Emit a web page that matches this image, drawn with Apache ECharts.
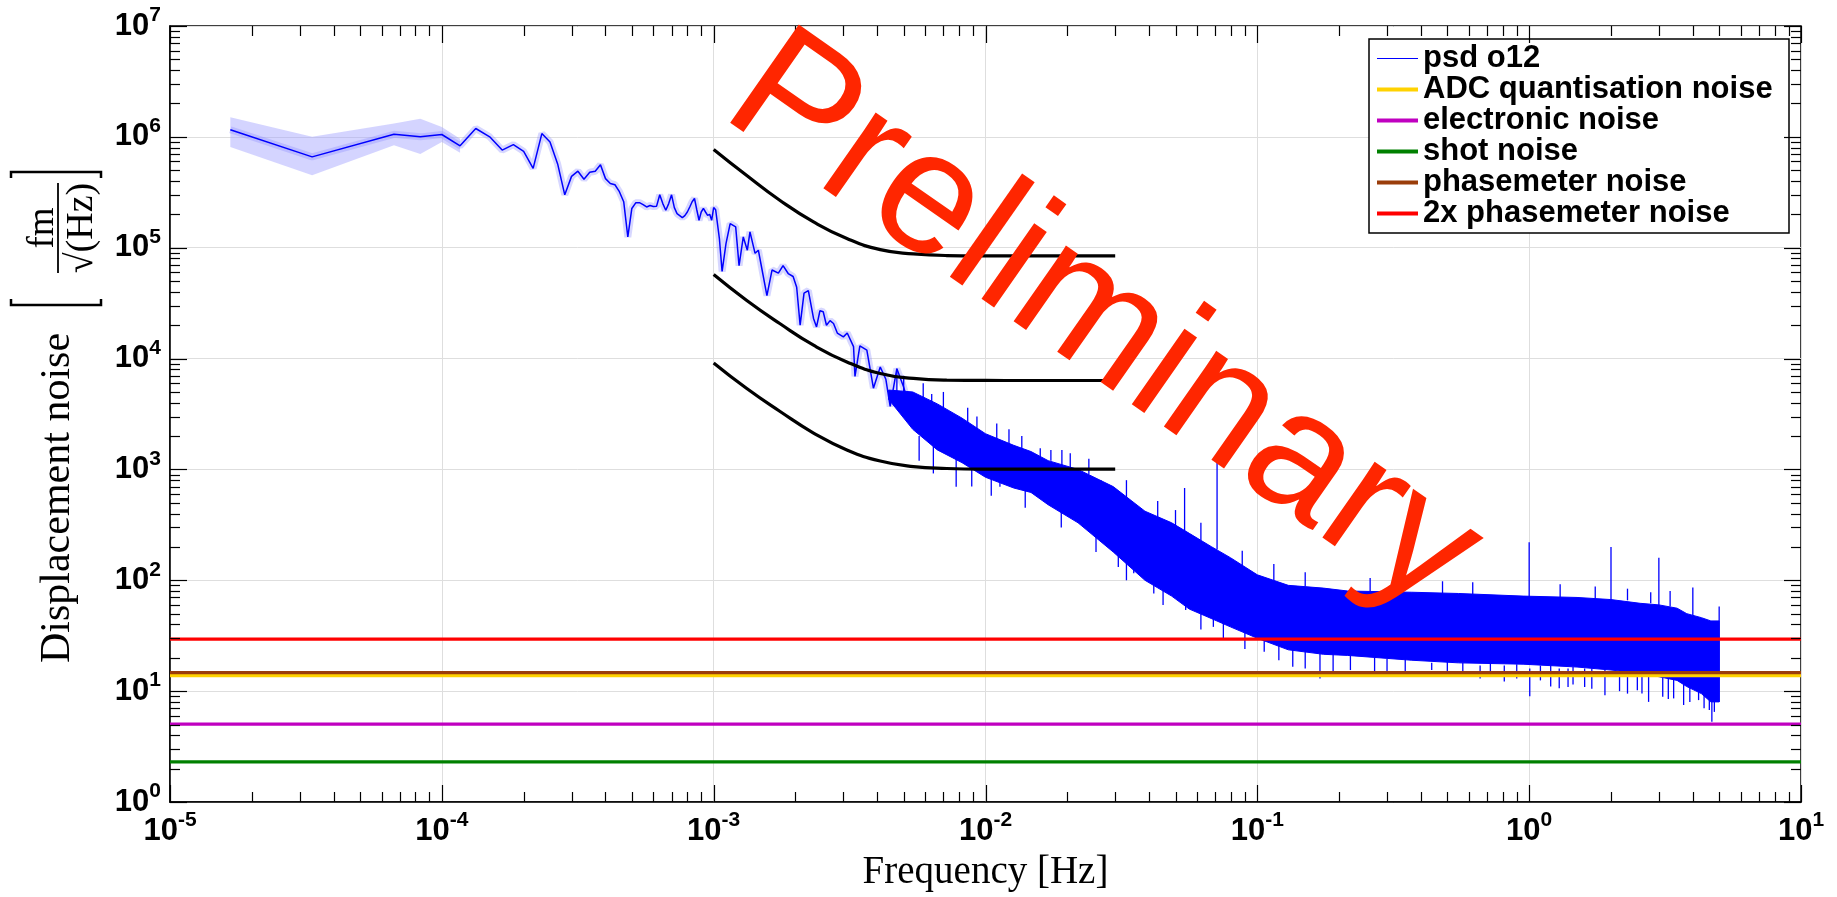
<!DOCTYPE html>
<html><head><meta charset="utf-8">
<script src="https://cdn.jsdelivr.net/npm/echarts@6.0.0/dist/echarts.min.js"></script>
<style>html,body{margin:0;padding:0;background:#fff;}#chart{width:1837px;height:897px;}</style>
</head><body><div id="chart"></div>
<script>
// ---------------- data ----------------
const xExpLabels = ['-5','-4','-3','-2','-1','0','1'];
const yExpLabels = ['0','1','2','3','4','5','6','7'];
const xRange = [1e-5, 10];
const yRange = [1, 1e7];

// psd o12 (readable single trace, low frequencies)
const psdF = [
 1.667e-5, 3.333e-5, 6.667e-5, 8.333e-5, 1.000e-4, 1.167e-4, 1.333e-4, 1.500e-4, 1.667e-4, 1.833e-4,
 2.000e-4, 2.167e-4, 2.333e-4, 2.500e-4, 2.667e-4, 2.833e-4, 3.000e-4, 3.167e-4, 3.333e-4, 3.500e-4,
 3.667e-4, 3.833e-4, 4.000e-4, 4.167e-4, 4.333e-4, 4.500e-4, 4.667e-4, 4.833e-4, 5.000e-4, 5.167e-4,
 5.333e-4, 5.500e-4, 5.667e-4, 5.833e-4, 6.000e-4, 6.167e-4, 6.333e-4, 6.500e-4, 6.667e-4, 6.833e-4,
 7.000e-4, 7.167e-4, 7.333e-4, 7.500e-4, 7.667e-4, 7.833e-4, 8.000e-4, 8.167e-4, 8.333e-4, 8.500e-4,
 8.667e-4, 8.833e-4, 9.000e-4, 9.167e-4, 9.333e-4, 9.500e-4, 9.667e-4, 9.833e-4, 1.000e-3, 1.017e-3,
 1.050e-3, 1.074e-3, 1.110e-3, 1.150e-3, 1.166e-3, 1.205e-3, 1.240e-3, 1.285e-3, 1.330e-3, 1.360e-3,
 1.420e-3, 1.460e-3, 1.500e-3, 1.570e-3, 1.640e-3, 1.730e-3, 1.800e-3, 1.880e-3, 1.960e-3, 2.020e-3,
 2.080e-3, 2.150e-3, 2.230e-3, 2.330e-3, 2.390e-3, 2.460e-3, 2.530e-3, 2.600e-3, 2.680e-3, 2.760e-3,
 2.850e-3, 3.000e-3, 3.100e-3, 3.270e-3, 3.310e-3, 3.450e-3, 3.660e-3, 3.870e-3, 4.100e-3, 4.300e-3,
 4.460e-3, 4.720e-3, 4.990e-3, 5.200e-3, 5.430e-3, 5.800e-3, 6.080e-3
];
const psdV = [
 1.16e6, 6.6e5, 1.055e6, 1.0e6, 1.05e6, 8.3e5, 1.19e6, 1.0e6, 7.6e5, 8.5e5,
 7.4e5, 5.2e5, 1.07e6, 9.0e5, 5.7e5, 3.0e5, 4.4e5, 4.9e5, 4.15e5, 4.8e5,
 4.9e5, 5.6e5, 4.2e5, 3.8e5, 3.7e5, 3.2e5, 2.6e5, 1.25e5, 2.26e5, 2.54e5,
 2.55e5, 2.45e5, 2.33e5, 2.4e5, 2.35e5, 2.37e5, 3.0e5, 2.5e5, 2.18e5, 2.5e5,
 3.0e5, 2.3e5, 2.03e5, 1.95e5, 1.87e5, 1.95e5, 2.1e5, 2.33e5, 2.6e5, 2.78e5,
 2.2e5, 1.77e5, 2.1e5, 2.26e5, 2.1e5, 1.96e5, 2.0e5, 1.77e5, 2.3e5, 2.2e5,
 1.2e5, 6.1e4, 1.09e5, 1.65e5, 1.71e5, 1.54e5, 6.9e4, 1.25e5, 9.5e4, 1.39e5,
 8.9e4, 9.5e4, 6.7e4, 3.7e4, 6.3e4, 5.9e4, 6.9e4, 5.85e4, 5.5e4, 4.4e4,
 2.0e4, 3.9e4, 4.1e4, 2.3e4, 1.93e4, 2.7e4, 2.64e4, 2.0e4, 2.2e4, 2.07e4,
 1.7e4, 1.57e4, 1.7e4, 1.28e4, 6.9e3, 1.3e4, 1.19e4, 5.4e3, 8.4e3, 6.5e3,
 3.7e3, 8.1e3, 5.6e3, 4.0e3, 2.8e3, 3.9e3, 3.2e3
];

// confidence region of psd o12 at the lowest frequencies
const ciF  = [1.667e-5, 3.333e-5, 6.667e-5, 8.333e-5, 1.0e-4, 1.167e-4];
const ciHi = [1.5e6, 1.0e6, 1.32e6, 1.46e6, 1.23e6, 9.6e5];
const ciLo = [8.1e5, 4.5e5, 8.4e5, 7.0e5, 9.0e5, 7.2e5];

// psd o12 dense region: envelope (upper / lower)
const bandF  = [4.4e-3, 5.4e-3, 6.65e-3, 8.2e-3, 1.0e-2, 1.27e-2, 1.47e-2, 1.7e-2, 2.19e-2, 2.95e-2,
                3.86e-2, 4.84e-2, 5.62e-2, 6.8e-2, 7.96e-2, 0.1, 0.13, 0.175, 0.215, 0.37,
                0.55, 0.95, 1.5, 2.0, 2.56, 3.0, 3.5, 3.8, 4.3, 4.66, 5.0];
const bandHi = [5.2e3, 5.0e3, 3.9e3, 2.9e3, 2.1e3, 1.65e3, 1.45e3, 1.2e3, 1.0e3, 700,
                420, 330, 265, 200, 160, 112, 90, 85, 80, 78,
                76, 72, 70, 67, 62, 60, 56, 50, 46, 43, 43];
const bandLo = [4.3e3, 2.3e3, 1.5e3, 1.15e3, 850, 680, 620, 480, 330, 180,
                100, 72, 55, 45, 38, 30, 23.6, 21.5, 21, 19,
                18, 17.5, 16.5, 15.5, 14.5, 13.5, 12.5, 11, 9.5, 8.0, 8.0];

// isolated spikes of psd o12 (frequency, low end, high end)
const spikeF  = [4.72e-3, 6.34e-3, 6.43e-3, 7.8e-3, 1.13e-2, 1.59e-2, 1.74e-2, 1.91e-2, 2.66e-2, 5.4e-2, 7.11e-2,
                 1.0, 2.0, 3.0, 4.0, 5.0,
                 3.08e-2, 3.51e-2, 4.16e-2, 5.45e-2, 6.89e-2, 0.106, 0.135, 0.17, 0.22, 0.438, 0.66, 0.81,
                 1.005, 1.29, 1.39, 1.6, 1.9, 2.5, 2.75, 3.1, 3.4, 4.2, 4.6, 4.7, 4.93];
const spikeLo = [5.0e3, 4.0e3, 920, 697, 697, 1.2e3, 1.2e3, 1.0e3, 600, 250, 190,
                 70, 65, 58, 48, 8.0,
                 132, 116, 76, 54, 38, 22.7, 16.6, 13.0, 15.5, 15.5, 13, 12.2,
                 9.0, 10.6, 10.9, 10.9, 9.2, 10.2, 8.0, 8.9, 8.6, 8.3, 6.75, 5.3, 8.3];
const spikeHi = [8.1e3, 4.8e3, 2000, 1500, 900, 1550, 1500, 1500, 800, 680, 1150,
                 220, 200, 160, 86, 58,
                 200, 150, 100, 70, 45, 30, 26, 22, 21, 18, 17, 17,
                 16, 16, 16, 16, 15.5, 15, 14, 14, 14, 11, 10, 10, 9];

// short hairs along the edges of the dense region (frequency, low end, high end)
const hairF  = [5.0e-3, 5.9e-3, 7.0e-3, 8.6e-3, 9.3e-3, 1.1e-2, 1.22e-2, 1.36e-2, 2.05e-2, 2.4e-2,
                3.3e-2, 4.3e-2, 5.0e-2, 6.2e-2, 8.8e-2, 0.115, 0.15, 0.26, 0.33, 0.48,
                0.62, 1.3, 1.75, 2.3, 2.8, 3.3,
                5.7e-3, 8.9e-3, 1.05e-2, 1.4e-2, 1.9e-2, 2.55e-2, 3.3e-2, 4.5e-2, 6.2e-2, 7.5e-2,
                9.0e-2, 0.12, 0.15, 0.19, 0.27, 0.3, 0.35, 0.5, 0.57, 0.72,
                0.9, 1.1, 1.2, 1.45, 1.7, 2.15, 2.3, 2.6, 3.25, 3.7, 3.9, 4.4, 4.8];
const hairLo = [4.5e3, 4.0e3, 3.2e3, 2.4e3, 2.1e3, 1.8e3, 1.6e3, 1.5e3, 1.0e3, 900,
                560, 360, 310, 230, 130, 100, 88, 80, 78, 76,
                75, 70, 68, 66, 62, 58,
                1.2e3, 700, 580, 450, 300, 180, 100, 60, 36, 30,
                24, 19, 16, 14.5, 14.5, 13.5, 14, 13.5, 14, 13.5,
                13, 12.5, 11, 11.5, 10.5, 10, 9.5, 9.5, 8.5, 7.5, 8, 7, 6.5];
const hairHi = [7.0e3, 6.0e3, 5.0e3, 3.6e3, 3.0e3, 2.6e3, 2.3e3, 2.0e3, 1.4e3, 1.25e3,
                800, 520, 430, 330, 185, 140, 118, 105, 100, 98,
                96, 92, 88, 84, 78, 80,
                2.0e3, 1.1e3, 900, 700, 450, 280, 150, 85, 50, 42,
                34, 27, 23, 22, 20, 19.5, 19.5, 18.5, 18, 17.8,
                17.5, 17, 17, 16.5, 16, 15.5, 15, 14.5, 13.5, 12, 11.5, 10, 9];

// model curves (black)
const modelF = [1.0e-3, 1.32e-3, 1.75e-3, 2.33e-3, 3.09e-3, 4.1e-3, 5.43e-3, 7.2e-3, 1.0e-2, 1.4e-2, 2.0e-2, 3.0e-2];
const modelTop = [7.7e5, 4.5e5, 2.68e5, 1.71e5, 1.21e5, 9.6e4, 8.8e4, 8.5e4, 8.45e4, 8.44e4, 8.44e4, 8.44e4];
const modelMid = [5.73e4, 3.36e4, 2.07e4, 1.32e4, 9.33e3, 7.34e3, 6.62e3, 6.38e3, 6.35e3, 6.34e3, 6.34e3, 6.34e3];
const modelBot = [9.14e3, 5.4e3, 3.35e3, 2.13e3, 1.50e3, 1.19e3, 1.06e3, 1.02e3, 1.007e3, 1.006e3, 1.006e3, 1.006e3];

// flat noise levels
const noiseNames  = ['ADC quantisation noise', 'electronic noise', 'shot noise', 'phasemeter noise', '2x phasemeter noise'];
const noiseLevels = [13.8, 5.05, 2.3, 14.7, 29.4];

// ---------------- styles ----------------
const noiseColors = ['#ffd200', '#c000c0', '#008000', '#9a3d0a', '#ff0000'];
const SANS = '"Liberation Sans", Arial, Helvetica, sans-serif';
const SERIF = '"Liberation Serif", "Times New Roman", serif';

const xMajorTicks = [1e-5, 1e-4, 1e-3, 1e-2, 1e-1, 1, 10];
const yMajorTicks = [1, 10, 100, 1e3, 1e4, 1e5, 1e6, 1e7];
const minorMult = [2, 3, 4, 5, 6, 7, 8, 9];
function minors(majors) {
  const out = [];
  for (let i = 0; i < majors.length - 1; i++) minorMult.forEach(m => out.push(majors[i] * m));
  return out;
}
const xMinorTicks = minors(xMajorTicks);
const yMinorTicks = minors(yMajorTicks);

const pair = (fs, vs) => fs.map((f, i) => [f, vs[i]]);
const triple = (fs, lo, hi) => fs.map((f, i) => [f, lo[i], hi[i]]);

const richLabel = {
  b: {fontFamily: SANS, fontWeight: 'bold', fontSize: 31, lineHeight: 42, color: '#000'},
  s: {fontFamily: SANS, fontWeight: 'bold', fontSize: 21, lineHeight: 21, verticalAlign: 'top', color: '#000'}
};

const chart = echarts.init(document.getElementById('chart'), null, {renderer: 'canvas', width: 1837, height: 897});

const series = [];

// confidence band
series.push({
  type: 'custom', name: 'psd ci', coordinateSystem: 'cartesian2d', silent: true, z: 2, clip: true,
  data: [[ciF[0], ciHi[0]]],
  renderItem: (params, api) => {
    const pts = [];
    for (let i = 0; i < ciF.length; i++) pts.push(api.coord([ciF[i], ciHi[i]]));
    for (let i = ciF.length - 1; i >= 0; i--) pts.push(api.coord([ciF[i], ciLo[i]]));
    return {type: 'polygon', shape: {points: pts}, style: {fill: 'rgba(160,160,255,0.45)'}};
  }
});
// halo around trace
series.push({
  type: 'line', name: 'psd halo', data: pair(psdF, psdV), symbol: 'none', silent: true, z: 3,
  lineStyle: {color: 'rgba(140,140,255,0.35)', width: 7}, clip: true
});
// dense band
series.push({
  type: 'custom', name: 'psd band', coordinateSystem: 'cartesian2d', silent: true, z: 4, clip: true,
  data: [[bandF[0], bandHi[0]]],
  renderItem: (params, api) => {
    const pts = [];
    for (let i = 0; i < bandF.length; i++) pts.push(api.coord([bandF[i], bandHi[i]]));
    for (let i = bandF.length - 1; i >= 0; i--) pts.push(api.coord([bandF[i], bandLo[i]]));
    return {type: 'polygon', shape: {points: pts}, style: {fill: '#0000ff', stroke: '#0000ff', lineWidth: 1}};
  }
});
// spikes and hairs
const vline = (params, api) => {
  const a = api.coord([api.value(0), api.value(1)]);
  const b = api.coord([api.value(0), api.value(2)]);
  return {type: 'line', shape: {x1: a[0], y1: a[1], x2: b[0], y2: b[1]}, style: {stroke: '#0000ff', lineWidth: 1.3}};
};
series.push({
  type: 'custom', name: 'psd spikes', coordinateSystem: 'cartesian2d', silent: true, z: 4, clip: true,
  data: triple(spikeF, spikeLo, spikeHi), encode: {x: 0, y: [1, 2]}, renderItem: vline
});
series.push({
  type: 'custom', name: 'psd hairs', coordinateSystem: 'cartesian2d', silent: true, z: 4, clip: true,
  data: triple(hairF, hairLo, hairHi), encode: {x: 0, y: [1, 2]}, renderItem: vline
});
// main trace
series.push({
  type: 'line', name: 'psd o12', data: pair(psdF, psdV), symbol: 'none', showSymbol: false, z: 5, clip: true,
  color: '#0000ff', lineStyle: {color: '#0000ff', width: 1.5}
});
// model curves
[modelTop, modelMid, modelBot].forEach((m, k) => {
  series.push({
    type: 'line', name: 'model ' + k, data: pair(modelF, m), symbol: 'none', z: 6, smooth: 0.5,
    color: '#000', lineStyle: {color: '#000', width: 3.2}
  });
});
// flat noise lines
noiseNames.forEach((n, i) => {
  series.push({
    type: 'line', name: n, data: [[xRange[0], noiseLevels[i]], [xRange[1], noiseLevels[i]]],
    symbol: 'none', showSymbol: false, z: 7, color: noiseColors[i], lineStyle: {color: noiseColors[i], width: 3.2}
  });
});
// ticks on all four sides (inward)
series.push({
  type: 'custom', name: 'ticks', coordinateSystem: 'cartesian2d', silent: true, z: 9, clip: false,
  data: [[1, 1]],
  renderItem: (params, api) => {
    const cs = params.coordSys;
    const x0 = cs.x, x1 = cs.x + cs.width, y0 = cs.y, y1 = cs.y + cs.height;
    const ch = [];
    const L = (a, b, c, d) => ch.push({type: 'line', shape: {x1: a, y1: b, x2: c, y2: d}, style: {stroke: '#000', lineWidth: 1.2}});
    const xt = (v, len) => { const px = Math.round(api.coord([v, 1])[0]) + 0.5; L(px, y1, px, y1 - len); L(px, y0, px, y0 + len); };
    const yt = (v, len) => { const py = Math.round(api.coord([1e-3, v])[1]) + 0.5; L(x0, py, x0 + len, py); L(x1, py, x1 - len, py); };
    xMajorTicks.forEach(v => xt(v, 17));
    xMinorTicks.forEach(v => xt(v, 10));
    yMajorTicks.forEach(v => yt(v, 17));
    yMinorTicks.forEach(v => yt(v, 10));
    return {type: 'group', children: ch};
  }
});

const legendData = [{name: 'psd o12', icon: 'path://M0,0H41V1H0Z'}].concat(noiseNames.map(n => ({name: n, icon: 'rect'})));

const option = {
  animation: false,
  backgroundColor: '#fff',
  textStyle: {fontFamily: SANS},
  grid: {left: 170, right: 36, top: 26, bottom: 95, show: true, borderColor: '#000', borderWidth: 1.5,
         backgroundColor: 'rgba(0,0,0,0)', containLabel: false, outerBoundsMode: 'none'},
  legend: {
    data: legendData, orient: 'vertical', left: 1369, top: 39,
    backgroundColor: '#fff', borderColor: '#000', borderWidth: 1.5, borderRadius: 0,
    padding: [4, 6, 4, 8], itemWidth: 41, itemHeight: 4, itemGap: 0, selectedMode: false,
    textStyle: {fontFamily: SANS, fontWeight: 'bold', fontSize: 31, lineHeight: 31, color: '#000', width: 360}
  },
  xAxis: {
    type: 'log', logBase: 10, min: xRange[0], max: xRange[1], splitNumber: 6,
    axisLine: {show: true, lineStyle: {color: '#000', width: 1.5}},
    axisTick: {show: false}, minorTick: {show: false},
    splitLine: {show: true, lineStyle: {color: '#dedede', width: 1}},
    axisLabel: {margin: 8, formatter: v => '{b|10}{s|' + xExpLabels[Math.round(Math.log10(v)) + 5] + '}', rich: richLabel},
    name: 'Frequency [Hz]', nameLocation: 'middle', nameGap: 51, nameMoveOverlap: false,
    nameTextStyle: {fontFamily: SERIF, fontSize: 39, color: '#000'}
  },
  yAxis: {
    type: 'log', logBase: 10, min: yRange[0], max: yRange[1], splitNumber: 7,
    axisLine: {show: true, lineStyle: {color: '#000', width: 1.5}},
    axisTick: {show: false}, minorTick: {show: false},
    splitLine: {show: true, lineStyle: {color: '#dedede', width: 1}},
    axisLabel: {margin: 9, formatter: v => '{b|10}{s|' + yExpLabels[Math.round(Math.log10(v))] + '}', rich: richLabel}
  },
  series: series,
  graphic: [
    // y-axis title: Displacement noise [ fm / sqrt(Hz) ]
    {
      type: 'group', x: 55, y: 414, rotation: Math.PI / 2, silent: true,
      children: [
        {type: 'text', x: -84, y: 3, style: {text: 'Displacement noise', fontFamily: SERIF, fontSize: 42, fill: '#000', textAlign: 'center', verticalAlign: 'middle'}},
        {type: 'polyline', shape: {points: [[115, -44], [109, -44], [109, 46], [115, 46]]}, style: {stroke: '#000', lineWidth: 2.5, fill: null}},
        {type: 'polyline', shape: {points: [[236, -44], [242, -44], [242, 46], [236, 46]]}, style: {stroke: '#000', lineWidth: 2.5, fill: null}},
        {type: 'line', shape: {x1: 141, y1: 3, x2: 231, y2: 3}, style: {stroke: '#000', lineWidth: 1.8}},
        {type: 'text', x: 186, y: -12, style: {text: 'fm', fontFamily: SERIF, fontSize: 37, fill: '#000', textAlign: 'center', verticalAlign: 'middle'}},
        {type: 'text', x: 186, y: 27, style: {text: '\u221a(Hz)', fontFamily: SERIF, fontSize: 38, fill: '#000', textAlign: 'center', verticalAlign: 'middle'}}
      ]
    },
    // watermark
    {
      type: 'text', x: 1068, y: 374, rotation: -35 * Math.PI / 180, z: 100, silent: true,
      style: {text: 'Preliminary', fontFamily: SANS, fontSize: 174, fill: '#ff2600', textAlign: 'center', verticalAlign: 'middle', y: -60}
    }
  ]
};
chart.setOption(option);
</script></body></html>
